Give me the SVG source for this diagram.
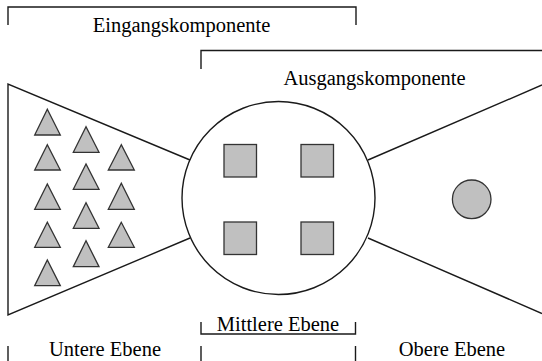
<svg xmlns="http://www.w3.org/2000/svg" width="542" height="361" viewBox="0 0 542 361">
<style>
.ln{stroke:#1a1a1a;stroke-width:1.4;fill:none}
.sh{fill:#c0c0c0;stroke:#333;stroke-width:1.3}
.t{font-family:"Liberation Serif","Times New Roman",serif;font-size:20.5px;fill:#000;text-anchor:middle}
</style>
<rect width="542" height="361" fill="#fff"/>
<g id="eingang">
<path class="ln" d="M8,25 V7 H356 V25"/>
<text class="t" x="181.5" y="31.5">Eingangskomponente</text>
</g>
<g id="ausgang">
<path class="ln" d="M201,69 V50.5 H542"/>
<text class="t" x="374.5" y="84.5">Ausgangskomponente</text>
</g>
<g id="untere">
<g class="sh">
<polygon points="47.3,109.3 34.7,135 60.3,135"/>
<polygon points="47.3,144.7 34.7,170 60.3,170"/>
<polygon points="47.3,184 34.7,209.3 60.3,209.3"/>
<polygon points="47.3,222.3 34.7,247.3 60.3,247.3"/>
<polygon points="47.3,260 34.7,285.7 60.3,285.7"/>
<polygon points="86,126.7 73.3,152.3 99,152.3"/>
<polygon points="86,164 73.3,189.3 99,189.3"/>
<polygon points="86,202.7 73.3,228.3 99,228.3"/>
<polygon points="86,240.7 73.3,266.7 99,266.7"/>
<polygon points="121.3,144.7 108.3,170 134.3,170"/>
<polygon points="121.3,183.3 108.3,209.3 134.3,209.3"/>
<polygon points="121.3,222.3 108.3,247.3 134.3,247.3"/>
</g>
<path class="ln" d="M8,346 V361"/>
<text class="t" x="105" y="355.5">Untere Ebene</text>
</g>
<g id="mittlere">
<circle class="ln" cx="278.5" cy="198" r="96.5"/>
<g class="sh">
<rect x="224" y="144.5" width="32.5" height="32.5"/>
<rect x="301" y="144.5" width="32.5" height="32.5"/>
<rect x="224" y="222" width="32.5" height="32.5"/>
<rect x="301" y="222" width="32.5" height="32.5"/>
</g>
<path class="ln" d="M201,322 V334 H355.5 V322 M201,346 V361 M355.5,346 V361"/>
<text class="t" x="278" y="330.5">Mittlere Ebene</text>
</g>
<g id="obere">
<circle class="sh" cx="471.7" cy="199.3" r="19.3"/>
<text class="t" x="452" y="355.5">Obere Ebene</text>
</g>
<g id="connectors">
<path class="ln" d="M190,160 L8,84 V315 L190,238"/>
<path class="ln" d="M368,160 L542,85 M368,238 L542,313.5"/>
</g>
</svg>
